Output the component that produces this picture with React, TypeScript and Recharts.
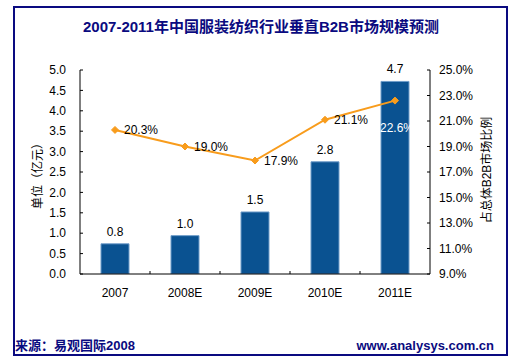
import React from 'react';
import { ComposedChart, Bar, Line, XAxis, YAxis, LabelList } from 'recharts';

const categories = ['2007', '2008E', '2009E', '2010E', '2011E'];
const marketSize = [0.74, 0.94, 1.52, 2.75, 4.72];
const marketSizeLabels = ['0.8', '1.0', '1.5', '2.8', '4.7'];
const shareRatio = [20.3, 19.0, 17.9, 21.1, 22.6];
const leftTicks = [0, 0.5, 1, 1.5, 2, 2.5, 3, 3.5, 4, 4.5, 5];
const rightTicks = [9, 11, 13, 15, 17, 19, 21, 23, 25];
const xTicks = [0.5, 1, 1.5, 2, 2.5, 3, 3.5, 4, 4.5];

const data = categories.map((c, i) => ({
  name: c,
  pos: i + 0.5,
  size: marketSize[i],
  sizeLabel: marketSizeLabels[i],
  share: shareRatio[i],
}));

const FONT = '"Liberation Sans", Arial, "Noto Sans CJK SC", sans-serif';
const NAVY = '#0a0a80';

const XTick = (props: any) => {
  const { x, y, payload } = props;
  const v = payload.value as number;
  if (Number.isInteger(v)) {
    return <line x1={x} x2={x} y1={y} y2={y - 3} stroke="#000" strokeWidth={1} />;
  }
  return (
    <text x={x} y={y + 19} dy="0.35em" textAnchor="middle" fontSize={12} fill="#000" fontFamily={FONT}>
      {categories[Math.floor(v)]}
    </text>
  );
};

const Diamond = (props: any) => {
  const { cx, cy, index } = props;
  if (cx == null || cy == null) return <g key={index} />;
  const r = 3.5;
  return (
    <polygon
      key={index}
      points={`${cx},${cy - r} ${cx + r},${cy} ${cx},${cy + r} ${cx - r},${cy}`}
      fill="#F89C1C"
      stroke="#F89C1C"
    />
  );
};

const LineLabel = (props: any) => {
  const { x, y, value, index } = props;
  const txt = `${Number(value).toFixed(1)}%`;
  if (index === categories.length - 1) {
    return (
      <text x={x - 15} y={y + 27} dy="0.35em" fontSize={12} fill="#fff" fontFamily={FONT}>
        {txt}
      </text>
    );
  }
  return (
    <text x={x + 9} y={y} dy="0.35em" fontSize={12} fill="#000" fontFamily={FONT}>
      {txt}
    </text>
  );
};

export default function App() {
  return (
    <div style={{ position: 'absolute', left: 0, top: 0, width: 522, height: 363, background: '#fff', fontFamily: FONT }}>
      <div
        style={{
          position: 'absolute',
          left: 13,
          top: 6,
          width: 495,
          height: 350,
          border: `2px solid ${NAVY}`,
          boxSizing: 'border-box',
        }}
      />
      <div
        style={{
          position: 'absolute',
          left: 0,
          top: 18,
          width: 522,
          textAlign: 'center',
          fontSize: 15,
          fontWeight: 'bold',
          color: NAVY,
          lineHeight: '18px',
        }}
      >
        2007-2011年中国服装纺织行业垂直B2B市场规模预测
      </div>
      <div style={{ position: 'absolute', left: 0, top: 0 }}>
        <ComposedChart
          width={522}
          height={363}
          data={data}
          margin={{ top: 70, right: 0, bottom: 59, left: 0 }}
        >
          <XAxis
            dataKey="pos"
            type="number"
            domain={[0, 5]}
            ticks={xTicks}
            interval={0}
            tickSize={0}
            tickMargin={0}
            tickLine={false}
            tick={<XTick />}
            axisLine={{ stroke: '#000' }}
            height={30}
            allowDataOverflow
          />
          <YAxis
            yAxisId="left"
            orientation="left"
            domain={[0, 5]}
            ticks={leftTicks}
            interval={0}
            width={80}
            tickSize={-3}
            tickMargin={17}
            tickFormatter={(v: number) => v.toFixed(1)}
            tick={{ fontSize: 12, fill: '#000', fontFamily: FONT }}
            axisLine={{ stroke: '#000' }}
            tickLine={{ stroke: '#000' }}
            allowDataOverflow
          />
          <YAxis
            yAxisId="right"
            orientation="right"
            domain={[9, 25]}
            ticks={rightTicks}
            interval={0}
            width={92}
            tickSize={-3}
            tickMargin={12}
            tickFormatter={(v: number) => `${v.toFixed(1)}%`}
            tick={{ fontSize: 12, fill: '#000', fontFamily: FONT, textAnchor: 'start' }}
            axisLine={{ stroke: '#000' }}
            tickLine={{ stroke: '#000' }}
            allowDataOverflow
          />
          <Bar
            yAxisId="left"
            dataKey="size"
            barSize={28}
            fill="#0A5291"
            stroke="#6E9CC9"
            strokeWidth={1}
            isAnimationActive={false}
          >
            <LabelList
              dataKey="sizeLabel"
              position="top"
              offset={8}
              fontSize={12}
              fill="#000"
              fontFamily={FONT}
            />
          </Bar>
          <Line
            yAxisId="right"
            dataKey="share"
            stroke="#F89C1C"
            strokeWidth={2}
            dot={<Diamond />}
            activeDot={false}
            isAnimationActive={false}
          >
            <LabelList dataKey="share" content={<LineLabel />} />
          </Line>
        </ComposedChart>
      </div>
      <div
        style={{
          position: 'absolute',
          left: 36,
          top: 173,
          transform: 'translate(-50%, -50%) rotate(-90deg)',
          whiteSpace: 'nowrap',
          fontSize: 12,
          color: '#000',
        }}
      >
        单位（亿元）
      </div>
      <div
        style={{
          position: 'absolute',
          left: 485,
          top: 170,
          transform: 'translate(-50%, -50%) rotate(-90deg)',
          whiteSpace: 'nowrap',
          fontSize: 12,
          color: '#000',
        }}
      >
        占总体B2B市场比例
      </div>
      <div
        style={{
          position: 'absolute',
          left: 15,
          top: 338,
          fontSize: 13,
          fontWeight: 'bold',
          color: NAVY,
          lineHeight: '16px',
        }}
      >
        来源：易观国际2008
      </div>
      <div
        style={{
          position: 'absolute',
          right: 522 - 494,
          top: 338,
          fontSize: 13,
          fontWeight: 'bold',
          color: NAVY,
          lineHeight: '16px',
        }}
      >
        www.analysys.com.cn
      </div>
    </div>
  );
}
